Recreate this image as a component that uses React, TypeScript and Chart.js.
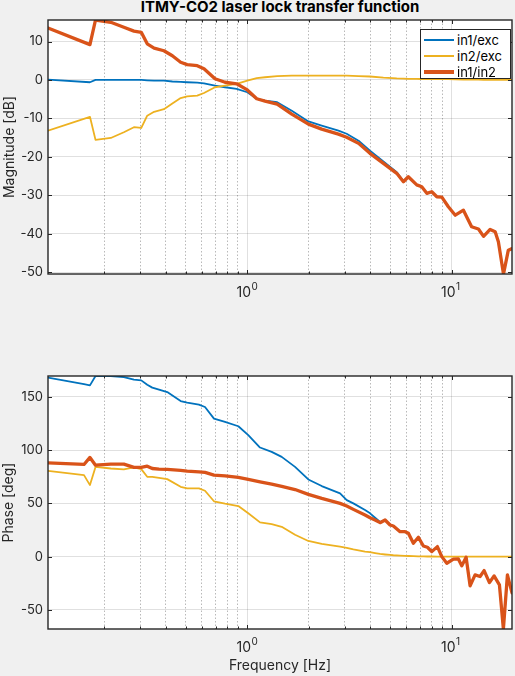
import React, { useEffect, useRef } from 'react';
import { Chart, registerables } from 'chart.js';

Chart.register(...registerables);

// ---------- data ----------
const TITLE = 'ITMY-CO2 laser lock transfer function';
const SERIES_NAMES = ['in1/exc', 'in2/exc', 'in1/in2'];
const X_LABEL = 'Frequency [Hz]';
const MAG_LABEL = 'Magnitude [dB]';
const PHASE_LABEL = 'Phase [deg]';

const X_MIN = 0.106;
const X_MAX = 19.7;
const X_GRID_VALUES = [0.2, 0.3, 0.4, 0.5, 0.6, 0.7, 0.8, 0.9, 1, 2, 3, 4, 5, 6, 7, 8, 9, 10];
const X_MAJOR_VALUES = [1, 10];
const X_TICK_BASE = '10';
const X_TICK_EXPONENT: Record<number, string> = { 1: '0', 10: '1' };

const MAG_MIN = -50.5;
const MAG_MAX = 15.6;
const MAG_STEP = 10;
const PHASE_MIN = -68;
const PHASE_MAX = 169.7;
const PHASE_STEP = 50;

const magFreq = [0.106, 0.170, 0.181, 0.215, 0.249, 0.279, 0.303, 0.324, 0.350, 0.391, 0.43, 0.472, 0.508, 0.569, 0.614, 0.695, 0.778, 0.887, 1.0, 1.112, 1.221, 1.40, 1.65, 1.99, 2.31, 2.79, 3.06, 3.50, 3.98, 4.63, 5.38, 5.80, 6.13, 6.74, 7.13, 7.55, 7.98, 8.45, 8.94, 9.62, 10.4, 11.4, 12.5, 13.5, 14.3, 15.4, 16.3, 16.9, 17.9, 18.9, 19.7];
const magIn1Exc = [0.1, -0.6, 0.0, 0.0, 0.0, 0.0, 0.0, -0.1, -0.2, -0.2, -0.4, -0.5, -0.6, -0.7, -0.9, -1.5, -1.9, -2.3, -3.2, -4.9, -5.4, -5.8, -8.0, -10.8, -11.9, -13.2, -14.0, -15.8, -18.4, -21.2, -24.0, -26.3, -25.2, -27.3, -27.8, -29.5, -29.1, -30.4, -30.5, -33.0, -35.2, -33.9, -38.2, -38.8, -40.7, -38.9, -39.5, -42.1, -50.5, -44.3, -43.9];
const magIn2Exc = [-13.2, -9.6, -15.6, -15.1, -13.6, -12.3, -12.5, -9.3, -8.3, -7.6, -6.1, -4.7, -4.3, -4.1, -3.4, -1.9, -1.5, -1.0, -0.2, 0.5, 0.7, 1.0, 1.1, 1.1, 1.1, 1.1, 1.1, 1.0, 0.9, 0.6, 0.4, 0.35, 0.3, 0.26, 0.25, 0.22, 0.2, 0.2, 0.2, 0.2, 0.15, 0.1, 0.1, 0.1, 0.05, 0.05, 0.0, 0.0, 0.0, 0.0, 0.0];
const magIn1In2 = [13.5, 9.2, 15.6, 15.0, 13.7, 12.7, 12.4, 9.4, 8.3, 7.6, 6.3, 4.6, 4.0, 3.7, 2.9, 0.3, -0.6, -1.0, -2.6, -4.9, -5.5, -6.3, -8.9, -11.5, -12.8, -14.1, -14.9, -16.5, -19.1, -21.7, -24.3, -26.5, -25.2, -27.3, -27.8, -29.5, -29.1, -30.4, -30.5, -33.0, -35.2, -33.9, -38.2, -38.8, -40.7, -38.9, -39.5, -42.1, -50.5, -44.3, -43.9];

const phaseFreq = [0.106, 0.159, 0.170, 0.181, 0.215, 0.249, 0.279, 0.303, 0.324, 0.343, 0.370, 0.406, 0.472, 0.508, 0.580, 0.621, 0.687, 0.778, 0.904, 1.011, 1.154, 1.316, 1.473, 1.712, 1.988, 2.312, 2.842, 3.064, 3.301, 3.765, 3.984, 4.216, 4.459, 4.718, 4.991, 5.180, 5.586, 5.910, 6.134, 6.488, 6.865, 7.261, 7.596, 7.983, 8.503, 8.935, 9.452, 10.18, 10.77, 11.19, 11.75, 12.29, 13.0, 13.75, 14.39, 15.28, 16.10, 17.10, 17.88, 18.71, 19.7];
const phaseIn1Exc = [168.1, 162.0, 160.9, 169.7, 169.7, 168.7, 166.3, 165.6, 161.5, 158.8, 157.0, 154.6, 146.2, 144.7, 142.8, 140.6, 129.7, 126.5, 122.5, 114.1, 102.5, 98.4, 93.7, 84.3, 72.5, 66.3, 59.4, 53.1, 50.0, 43.8, 40.7, 36.5, 32.5, 34.6, 30.0, 28.8, 23.4, 23.4, 21.9, 12.6, 18.2, 10.0, 8.8, 4.7, 9.4, 0.0, -6.2, -2.4, -2.2, -8.7, -0.6, -27.5, -17.2, -18.7, -13.1, -24.4, -18.1, -26.5, -68.0, -17.2, -34.0];
const phaseIn2Exc = [80.6, 76.6, 67.2, 84.3, 82.8, 81.9, 83.8, 82.2, 75.0, 75.0, 74.0, 72.8, 65.6, 64.1, 64.1, 61.9, 52.0, 49.8, 47.5, 40.7, 32.2, 30.5, 28.0, 20.5, 14.7, 11.9, 9.4, 8.3, 6.8, 4.7, 4.2, 3.3, 2.5, 2.0, 1.6, 1.3, 0.9, 0.7, 0.6, 0.4, 0.3, 0.2, 0.1, 0.1, 0.0, 0.0, 0.0, 0.0, 0.0, 0.0, 0.0, 0.0, 0.0, 0.0, 0.0, 0.0, 0.0, 0.0, 0.0, 0.0, 0.0];
const phaseIn1In2 = [88.1, 86.6, 93.2, 85.9, 86.9, 86.9, 83.8, 83.8, 85.0, 82.8, 82.3, 81.9, 81.0, 80.3, 79.7, 79.1, 76.6, 75.9, 74.4, 72.5, 70.3, 68.2, 66.0, 63.0, 58.5, 54.7, 50.0, 47.5, 44.4, 39.1, 36.6, 34.4, 31.9, 34.4, 29.7, 28.8, 23.4, 23.4, 21.9, 12.6, 18.2, 10.0, 8.8, 4.7, 9.4, 0.0, -6.2, -2.4, -2.2, -8.7, -0.6, -27.5, -17.2, -18.7, -13.1, -24.4, -18.1, -26.5, -68.0, -17.2, -34.0];

// ---------- styles ----------
const FONT = "Inter, 'Liberation Sans', Arial, sans-serif";
const AXIS_COLOR = '#262626';
const COLORS = ['#0072BD', '#EDB120', '#D95319'];
const WIDTHS = [1.8, 1.8, 3.3];
const ORDERS = [2, 1, 0];
const X_TICK_FONT_SIZE = 14;
const X_EXP_FONT_SIZE = 10;
const X_TICK_PAD = 10;
const X_TICK_SPACER = '\u2002';

const isMajor = (v: any) => X_MAJOR_VALUES.includes(v);

const boxPlugin = {
  id: 'matlabBox',
  beforeDraw(chart: any) {
    const { ctx, chartArea: a } = chart;
    ctx.save();
    ctx.fillStyle = '#ffffff';
    ctx.fillRect(a.left, a.top, a.right - a.left, a.bottom - a.top);
    ctx.restore();
  },
  afterDraw(chart: any) {
    const { ctx, chartArea: a, scales } = chart;
    const xs = scales.x;
    const ys = scales.y;
    ctx.save();
    ctx.strokeStyle = AXIS_COLOR;
    ctx.lineWidth = 1;
    ctx.beginPath();
    xs.ticks.forEach((t: any) => {
      const px = Math.round(xs.getPixelForValue(t.value)) + 0.5;
      const len = isMajor(t.value) ? 4 : 2.5;
      ctx.moveTo(px, a.top);
      ctx.lineTo(px, a.top + len);
      ctx.moveTo(px, a.bottom);
      ctx.lineTo(px, a.bottom - len);
    });
    ys.ticks.forEach((t: any) => {
      const py = Math.round(ys.getPixelForValue(t.value)) + 0.5;
      ctx.moveTo(a.left, py);
      ctx.lineTo(a.left + 4, py);
      ctx.moveTo(a.right, py);
      ctx.lineTo(a.right - 4, py);
    });
    ctx.stroke();
    ctx.lineWidth = 1.4;
    ctx.strokeRect(a.left, a.top, a.right - a.left, a.bottom - a.top);

    // exponents of the decade tick labels (10^0, 10^1)
    ctx.font = `${X_TICK_FONT_SIZE}px ${FONT}`;
    const fullW = ctx.measureText(X_TICK_BASE + X_TICK_SPACER).width;
    const baseW = ctx.measureText(X_TICK_BASE).width;
    ctx.font = `${X_EXP_FONT_SIZE}px ${FONT}`;
    ctx.fillStyle = AXIS_COLOR;
    ctx.textAlign = 'left';
    ctx.textBaseline = 'alphabetic';
    xs.ticks.forEach((t: any) => {
      const e = X_TICK_EXPONENT[t.value];
      if (e === undefined) return;
      const px = xs.getPixelForValue(t.value);
      const left = px - fullW / 2 + baseW + 0.5;
      ctx.fillText(e, left, a.bottom + X_TICK_PAD + 6.3);
    });
    ctx.restore();
  },
};

function makeDatasets(freq: number[], series: number[][]) {
  return series.map((vals, i) => ({
    label: SERIES_NAMES[i],
    data: freq.map((f, k) => ({ x: f, y: vals[k] })),
    borderColor: COLORS[i],
    backgroundColor: COLORS[i],
    borderWidth: WIDTHS[i],
    order: ORDERS[i],
    pointRadius: 0,
    tension: 0,
    fill: false,
    clip: 0,
    borderJoinStyle: 'round',
    borderCapStyle: 'round',
  }));
}

function xScale(height: number, withTitle: boolean) {
  return {
    type: 'logarithmic',
    min: X_MIN,
    max: X_MAX,
    afterBuildTicks: (s: any) => {
      s.ticks = X_GRID_VALUES.map((v) => ({ value: v }));
    },
    afterFit: (s: any) => {
      s.height = height;
    },
    ticks: {
      autoSkip: false,
      maxRotation: 0,
      minRotation: 0,
      padding: X_TICK_PAD,
      color: AXIS_COLOR,
      font: { family: FONT, size: X_TICK_FONT_SIZE },
      callback: (v: any) => (X_TICK_EXPONENT[v] !== undefined ? X_TICK_BASE + X_TICK_SPACER : ''),
    },
    grid: {
      drawTicks: false,
      lineWidth: 1,
      color: (ctx: any) => (ctx.tick && !isMajor(ctx.tick.value) ? 'rgba(38,38,38,0.32)' : 'rgba(38,38,38,0.14)'),
    },
    border: {
      display: false,
      dash: (ctx: any) => (ctx.tick && !isMajor(ctx.tick.value) ? [1.5, 2] : []),
    },
    title: {
      display: withTitle,
      text: X_LABEL,
      color: AXIS_COLOR,
      font: { family: FONT, size: 14 },
      padding: { top: 0, bottom: 1.6 },
    },
  };
}

function yScale(min: number, max: number, step: number, label: string, titlePad: number) {
  return {
    type: 'linear',
    min,
    max,
    afterFit: (s: any) => {
      s.width = 48;
    },
    ticks: {
      stepSize: step,
      includeBounds: false,
      padding: 5,
      color: AXIS_COLOR,
      font: { family: FONT, size: 13 },
    },
    grid: { drawTicks: false, lineWidth: 1, color: 'rgba(38,38,38,0.14)' },
    border: { display: false },
    title: {
      display: true,
      text: label,
      color: AXIS_COLOR,
      font: { family: FONT, size: 14 },
      padding: { top: titlePad, bottom: 0 },
    },
  };
}

function makeConfig(datasets: any[], y: any, x: any, padTop: number): any {
  return {
    type: 'line',
    data: { datasets },
    options: {
      responsive: false,
      animation: false,
      events: [],
      layout: { padding: { top: padTop, right: 3, left: 0, bottom: 0 } },
      plugins: { legend: { display: false }, tooltip: { enabled: false }, title: { display: false } },
      scales: { x, y },
    },
    plugins: [boxPlugin],
  };
}

export default function App() {
  const magRef = useRef<HTMLCanvasElement>(null);
  const phRef = useRef<HTMLCanvasElement>(null);

  useEffect(() => {
    const c1 = new Chart(
      magRef.current as HTMLCanvasElement,
      makeConfig(
        makeDatasets(magFreq, [magIn1Exc, magIn2Exc, magIn1In2]),
        yScale(MAG_MIN, MAG_MAX, MAG_STEP, MAG_LABEL, 1.6),
        xScale(26, false),
        20
      )
    );
    const c2 = new Chart(
      phRef.current as HTMLCanvasElement,
      makeConfig(
        makeDatasets(phaseFreq, [phaseIn1Exc, phaseIn2Exc, phaseIn1In2]),
        yScale(PHASE_MIN, PHASE_MAX, PHASE_STEP, PHASE_LABEL, 0.1),
        xScale(47, true),
        76
      )
    );
    return () => {
      c1.destroy();
      c2.destroy();
    };
  }, []);

  return (
    <div
      style={{
        position: 'absolute',
        left: 0,
        top: 0,
        width: 515,
        height: 676,
        background: '#f0f0f0',
        overflow: 'hidden',
        fontFamily: FONT,
      }}
    >
      <div
        style={{
          position: 'absolute',
          left: 48,
          width: 464,
          top: -1.5,
          textAlign: 'center',
          fontWeight: 'bold',
          fontSize: 15,
          lineHeight: '16px',
          color: '#000',
          whiteSpace: 'nowrap',
        }}
      >
        {TITLE}
      </div>
      <canvas ref={magRef} width={515} height={300} style={{ position: 'absolute', left: 0, top: 0 }} />
      <canvas ref={phRef} width={515} height={376} style={{ position: 'absolute', left: 0, top: 300 }} />
      <div
        style={{
          position: 'absolute',
          left: 420,
          top: 29,
          width: 91,
          height: 50,
          boxSizing: 'border-box',
          border: '1px solid #262626',
          background: '#ffffff',
        }}
      >
        {SERIES_NAMES.map((name, i) => (
          <div key={name} style={{ position: 'absolute', left: 0, top: 2 + i * 16, width: 89, height: 16 }}>
            <div
              style={{
                position: 'absolute',
                left: 3,
                top: 8 - WIDTHS[i] / 2,
                width: 30,
                height: WIDTHS[i],
                background: COLORS[i],
              }}
            />
            <span
              style={{
                position: 'absolute',
                left: 36,
                top: 0,
                fontSize: 13,
                lineHeight: '16px',
                color: '#000',
                whiteSpace: 'nowrap',
              }}
            >
              {name}
            </span>
          </div>
        ))}
      </div>
    </div>
  );
}
